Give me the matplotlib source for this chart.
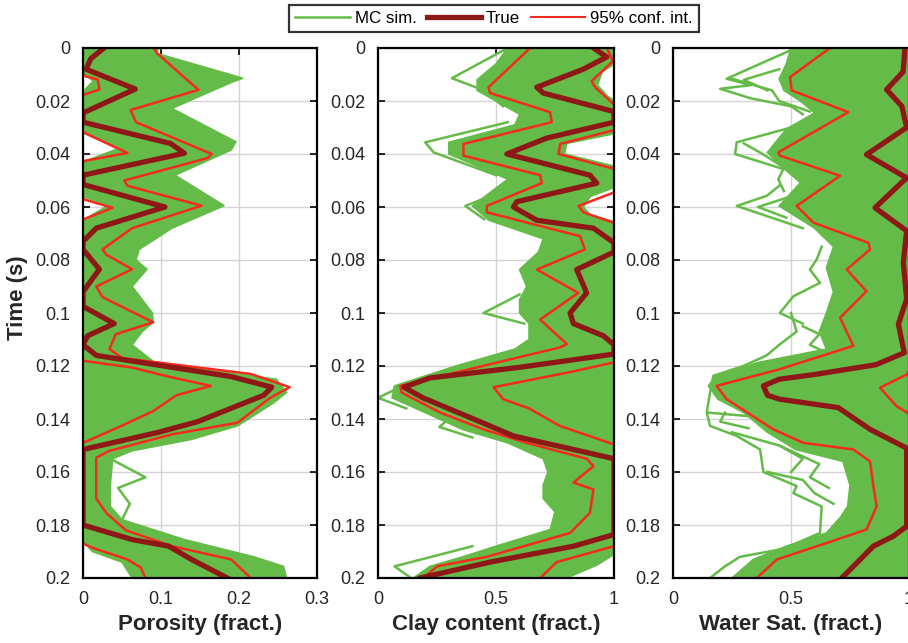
import matplotlib.pyplot as plt
from matplotlib.lines import Line2D
import numpy as np

plt.rcParams['font.family'] = ['Liberation Sans', 'DejaVu Sans']

GREEN = '#64bb48'
DARK = '#8e1717'
RED = '#f42a1f'

# ---------------- porosity ----------------
por_true_t = [0, 0.004, 0.008, 0.0155, 0.0245, 0.028, 0.036, 0.0397, 0.048, 0.0515, 0.060, 0.068,
              0.073, 0.076, 0.0835, 0.092, 0.0975, 0.104, 0.1086, 0.112, 0.116, 0.124, 0.128, 0.131,
              0.141, 0.145, 0.1515, 0.18, 0.1855, 0.188, 0.193, 0.2]
por_true = [0.027, 0.010, 0.004, 0.067, 0.0, 0.0, 0.112, 0.130, 0.0, 0.0, 0.105, 0.017,
            0.0, 0.0, 0.021, 0.0, 0.0, 0.040, 0.006, 0.0, 0.017, 0.190, 0.242, 0.232,
            0.147, 0.097, 0.0, 0.0, 0.063, 0.110, 0.139, 0.185]

por_lo_t = [0, 0.004, 0.0106, 0.0119, 0.0157, 0.0175, 0.024, 0.032, 0.0396, 0.0427, 0.05, 0.0572,
            0.0603, 0.0647, 0.075, 0.09, 0.105, 0.118, 0.1206, 0.1243, 0.1275, 0.131, 0.137, 0.1425,
            0.149, 0.165, 0.187, 0.1887, 0.193, 0.196, 0.2]
por_lo = [0.0, -0.01, 0.002, 0.019, 0.021, 0.002, -0.03, 0.002, 0.057, 0.0, -0.02, 0.002,
          0.038, 0.0, -0.03, -0.03, -0.03, 0.0, 0.063, 0.114, 0.164, 0.12, 0.09, 0.05,
          0.0, -0.03, 0.0, 0.013, 0.057, 0.074, 0.080]

por_hi_t = [0, 0.002, 0.0158, 0.0234, 0.028, 0.04, 0.0415, 0.05, 0.052, 0.0595, 0.068, 0.076,
            0.078, 0.0835, 0.09, 0.094, 0.1035, 0.108, 0.1136, 0.117, 0.123, 0.128, 0.132, 0.1414,
            0.1458, 0.152, 0.1546, 0.17, 0.1755, 0.182, 0.188, 0.193, 0.2]
por_hi = [0.091, 0.095, 0.148, 0.061, 0.068, 0.165, 0.160, 0.053, 0.057, 0.152, 0.063, 0.025,
          0.030, 0.063, 0.017, 0.025, 0.090, 0.042, 0.034, 0.050, 0.215, 0.265, 0.240, 0.198,
          0.114, 0.034, 0.017, 0.017, 0.030, 0.055, 0.114, 0.190, 0.215]

por_env_lo_t = [0, 0.009, 0.0125, 0.0165, 0.032, 0.038, 0.043, 0.056, 0.0595, 0.065, 0.186, 0.19,
                0.194, 0.2]
por_env_lo = [0, 0, 0.013, 0, 0, 0.045, 0, 0, 0.032, 0, 0, 0.012, 0.05, 0.063]
por_env_hi_t = [0, 0.002, 0.0114, 0.013, 0.0228, 0.0354, 0.0385, 0.048, 0.0595, 0.068, 0.076, 0.08,
                0.0835, 0.09, 0.1, 0.1035, 0.107, 0.112, 0.119, 0.125, 0.13, 0.134, 0.1426, 0.1477,
                0.152, 0.155, 0.165, 0.173, 0.178, 0.1855, 0.192, 0.1956, 0.2]
por_env_hi = [0.097, 0.094, 0.205, 0.19, 0.114, 0.196, 0.19, 0.118, 0.181, 0.114, 0.072, 0.068,
              0.082, 0.063, 0.089, 0.09, 0.076, 0.063, 0.093, 0.248, 0.261, 0.244, 0.198, 0.139,
              0.063, 0.038, 0.035, 0.035, 0.05, 0.13, 0.219, 0.257, 0.261]
por_stray = [
    ([0.126, 0.1325, 0.141, 0.143, 0.147], [0.14, 0.10, 0.05, 0.05, 0.035]),
    ([0.155, 0.162, 0.166, 0.172, 0.178], [0.035, 0.08, 0.045, 0.06, 0.05]),
]

# ---------------- clay content ----------------
clay_true_t = [0, 0.0034, 0.008, 0.0148, 0.017, 0.024, 0.028, 0.034, 0.04, 0.048, 0.051, 0.058,
               0.06, 0.065, 0.068, 0.0735, 0.077, 0.0836, 0.0924, 0.1, 0.104, 0.1086, 0.112, 0.1155,
               0.1205, 0.1245, 0.128, 0.132, 0.14, 0.1464, 0.1515, 0.155, 0.1836, 0.188, 0.194, 0.2]
clay_true = [0.913, 0.969, 0.87, 0.673, 0.70, 1.0, 1.0, 0.715, 0.546, 0.898, 0.927, 0.588,
             0.574, 0.673, 0.913, 1.0, 1.0, 0.842, 0.884, 0.814, 0.828, 0.955, 1.0, 1.0,
             0.60, 0.22, 0.11, 0.19, 0.405, 0.574, 0.828, 1.0, 1.0, 0.828, 0.475, 0.179]

clay_lo_t = [0, 0.0148, 0.017, 0.0242, 0.028, 0.0362, 0.0406, 0.048, 0.051, 0.0596, 0.062, 0.071,
             0.076, 0.0836, 0.0924, 0.1025, 0.1117, 0.113, 0.1275, 0.13, 0.1376, 0.1439, 0.149,
             0.155, 0.1578, 0.164, 0.1666, 0.1754, 0.183, 0.192, 0.1956, 0.2]
clay_lo = [0.645, 0.468, 0.475, 0.729, 0.736, 0.362, 0.362, 0.687, 0.694, 0.461, 0.461, 0.856,
           0.877, 0.673, 0.849, 0.687, 0.80, 0.77, 0.094, 0.10, 0.264, 0.447, 0.63,
           0.884, 0.913, 0.828, 0.913, 0.898, 0.814, 0.461, 0.25, 0.193]

clay_hi_t = [0, 0.005, 0.0125, 0.0148, 0.0213, 0.025, 0.031, 0.0362, 0.040, 0.0456, 0.05, 0.0545,
             0.0596, 0.062, 0.066, 0.075, 0.1, 0.1186, 0.122, 0.128, 0.1325, 0.136, 0.1426, 0.1496,
             0.16, 0.18, 0.188, 0.194, 0.2]
clay_hi = [0.97, 0.995, 0.905, 0.92, 1.0, 1.05, 1.0, 0.772, 0.765, 1.0, 1.03, 1.0,
           0.85, 0.87, 1.0, 1.05, 1.05, 1.0, 0.83, 0.49, 0.53, 0.64, 0.77, 1.0,
           1.05, 1.05, 1.0, 0.757, 0.687]

clay_env_lo_t = [0, 0.006, 0.012, 0.016, 0.02, 0.025, 0.029, 0.0356, 0.040, 0.0495, 0.0596, 0.065,
                 0.072, 0.077, 0.0836, 0.09, 0.095, 0.1, 0.104, 0.11, 0.1136, 0.12, 0.1275, 0.132,
                 0.1376, 0.144, 0.149, 0.155, 0.16, 0.165, 0.17, 0.175, 0.1817, 0.188, 0.192, 0.1956, 0.2]
clay_env_lo = [0.55, 0.50, 0.42, 0.42, 0.50, 0.60, 0.58, 0.30, 0.30, 0.55, 0.40, 0.47,
               0.70, 0.68, 0.60, 0.63, 0.60, 0.60, 0.64, 0.64, 0.58, 0.33, 0.07, 0.06,
               0.20, 0.36, 0.55, 0.70, 0.72, 0.70, 0.70, 0.75, 0.73, 0.50, 0.36, 0.22, 0.15]
clay_env_hi_t = [0, 0.005, 0.009, 0.014, 0.018, 0.021, 0.032, 0.036, 0.040, 0.045, 0.052, 0.056,
                 0.060, 0.063, 0.066, 0.19, 0.195, 0.2]
clay_env_hi = [1.02, 1.02, 0.95, 0.93, 0.97, 1.02, 1.02, 0.80, 0.79, 1.02, 1.02, 0.90,
               0.87, 0.90, 1.02, 1.02, 0.93, 0.80]
clay_stray = [
    ([0.0, 0.0114, 0.016, 0.022], [0.55, 0.313, 0.45, 0.53]),
    ([0.028, 0.0356, 0.0394, 0.048], [0.55, 0.20, 0.236, 0.50]),
    ([0.055, 0.0596, 0.0646], [0.50, 0.37, 0.45]),
    ([0.093, 0.1, 0.104], [0.60, 0.447, 0.62]),
    ([0.126, 0.132, 0.136], [0.14, 0.0, 0.12]),
    ([0.14, 0.143, 0.147], [0.30, 0.26, 0.40]),
    ([0.188, 0.1956, 0.2], [0.40, 0.07, 0.14]),
]

# ---------------- water saturation ----------------
wat_true_t = [0, 0.009, 0.0157, 0.022, 0.030, 0.0402, 0.049, 0.0603, 0.069, 0.081, 0.0947, 0.1042,
              0.115, 0.1195, 0.1232, 0.125, 0.1275, 0.131, 0.1325, 0.1357, 0.1439, 0.151, 0.1805,
              0.1842, 0.188, 0.2]
wat_true = [0.983, 0.975, 0.905, 0.97, 0.99, 0.82, 0.99, 0.856, 0.99, 0.976, 0.99, 0.955,
            0.98, 0.86, 0.60, 0.45, 0.383, 0.40, 0.45, 0.70, 0.835, 0.99, 0.99,
            0.934, 0.849, 0.715]

wat_lo_t = [0, 0.011, 0.016, 0.0242, 0.0394, 0.0406, 0.0482, 0.0596, 0.0659, 0.0735, 0.076, 0.0836,
            0.0918, 0.1018, 0.1124, 0.1212, 0.1275, 0.1325, 0.1439, 0.149, 0.1515, 0.156, 0.1653,
            0.173, 0.1817, 0.1868, 0.193, 0.2]
wat_lo = [0.665, 0.496, 0.503, 0.743, 0.446, 0.453, 0.708, 0.524, 0.595, 0.828, 0.835, 0.736,
          0.82, 0.708, 0.764, 0.453, 0.185, 0.227, 0.425, 0.552, 0.764, 0.835, 0.849,
          0.863, 0.82, 0.651, 0.44, 0.355]

wat_hi_t = [0, 0.118, 0.1232, 0.1282, 0.1352, 0.138, 0.143, 0.2]
wat_hi = [1.05, 1.03, 0.99, 0.877, 0.948, 1.0, 1.05, 1.05]

wat_env_lo_t = [0, 0.006, 0.0116, 0.016, 0.02, 0.0245, 0.0306, 0.0394, 0.044, 0.0508, 0.0596, 0.068,
                0.075, 0.083, 0.092, 0.1, 0.107, 0.1136, 0.1187, 0.124, 0.1275, 0.1325, 0.1376,
                0.145, 0.1515, 0.156, 0.165, 0.173, 0.177, 0.183, 0.188, 0.193, 0.2]
wat_env_lo = [0.50, 0.48, 0.45, 0.47, 0.54, 0.60, 0.48, 0.40, 0.45, 0.54, 0.45, 0.60,
              0.68, 0.65, 0.68, 0.65, 0.62, 0.65, 0.36, 0.18, 0.15, 0.19, 0.30,
              0.40, 0.52, 0.72, 0.75, 0.74, 0.71, 0.65, 0.48, 0.34, 0.25]
wat_env_hi_t = [0, 0.2]
wat_env_hi = [1.02, 1.02]
wat_stray = [
    ([0, 0.0116, 0.014, 0.0154, 0.019, 0.022, 0.025], [0.52, 0.227, 0.33, 0.20, 0.33, 0.50, 0.55]),
    ([0.03, 0.0356, 0.04, 0.0457, 0.0495, 0.054], [0.50, 0.27, 0.263, 0.468, 0.446, 0.47]),
    ([0.052, 0.0558, 0.0596, 0.0634, 0.068], [0.45, 0.397, 0.27, 0.397, 0.55]),
    ([0.075, 0.0798, 0.0836, 0.0886, 0.0937, 0.1, 0.104], [0.63, 0.609, 0.58, 0.623, 0.51, 0.453, 0.55]),
    ([0.1, 0.107, 0.112, 0.116, 0.12, 0.1237, 0.13, 0.1376, 0.1426, 0.1464, 0.1515, 0.16, 0.1653,
      0.168, 0.173, 0.183, 0.189, 0.192, 0.1956, 0.2],
     [0.50, 0.524, 0.45, 0.397, 0.298, 0.171, 0.157, 0.143, 0.157, 0.27, 0.369, 0.383, 0.524,
      0.51, 0.63, 0.623, 0.468, 0.284, 0.22, 0.157]),
    ([0.1376, 0.139, 0.142, 0.146], [0.15, 0.33, 0.40, 0.45]),
    ([0.145, 0.15, 0.155, 0.16], [0.25, 0.45, 0.55, 0.50]),
    ([0.16, 0.163, 0.168, 0.172], [0.40, 0.55, 0.60, 0.68]),
    ([0.105, 0.108, 0.112, 0.115], [0.55, 0.62, 0.58, 0.65]),
    ([0.0116, 0.016, 0.02, 0.024], [0.25, 0.42, 0.45, 0.58]),
    ([0.036, 0.04, 0.044], [0.30, 0.38, 0.45]),
    ([0.008, 0.012, 0.016], [0.45, 0.30, 0.40]),
    ([0.056, 0.06, 0.064], [0.50, 0.36, 0.48]),
    ([0.1376, 0.141, 0.1435], [0.22, 0.20, 0.32]),
    ([0.15, 0.157, 0.162, 0.166], [0.45, 0.62, 0.58, 0.66]),
]

time_ticks = np.round(np.arange(0, 0.2001, 0.02), 2)


def draw_panel(ax, env, stray, lo, hi, true, xmax, xticks, xlabel):
    # MC realisations: dense band plus the stray traces outside it
    (lo_t, lo_x), (hi_t, hi_x) = env
    poly_x = np.r_[lo_x, hi_x[::-1]]
    poly_t = np.r_[lo_t, hi_t[::-1]]
    ax.fill(poly_x, poly_t, color=GREEN, lw=1.2, ec=GREEN, zorder=2)
    for t, x in stray:
        ax.plot(x, t, color=GREEN, lw=1.8, zorder=2.1)
    ax.plot(lo[1], lo[0], color=RED, lw=1.8, zorder=3)
    ax.plot(hi[1], hi[0], color=RED, lw=1.8, zorder=3)
    ax.plot(true[1], true[0], color=DARK, lw=3.8, zorder=4)

    ax.set_xlim(0, xmax)
    ax.set_ylim(0.2, 0)
    ax.set_xticks(xticks)
    ax.set_xticklabels([f'{v:g}' for v in xticks])
    ax.set_yticks(time_ticks)
    ax.set_yticklabels([f'{v:g}' for v in time_ticks])
    ax.grid(True, color='#d4d4d4', lw=1.0)
    ax.tick_params(direction='in', length=5, width=1.2, top=True, right=True,
                   labelsize=13, labelcolor='#262626', pad=9)
    for s in ax.spines.values():
        s.set_linewidth(1.6)
        s.set_zorder(5)
    ax.set_xlabel(xlabel, fontsize=16, fontweight='bold', color='#262626', labelpad=5)


fig = plt.figure(figsize=(9.08, 6.43), dpi=100)
bottom = 1 - 578 / 643
height = 530 / 643
ax1 = fig.add_axes([83 / 908, bottom, 234 / 908, height])
ax2 = fig.add_axes([378 / 908, bottom, 236 / 908, height])
ax3 = fig.add_axes([673 / 908, bottom, 236 / 908, height])

draw_panel(ax1, ((por_env_lo_t, por_env_lo), (por_env_hi_t, por_env_hi)), por_stray,
           (por_lo_t, por_lo), (por_hi_t, por_hi), (por_true_t, por_true),
           0.3, [0, 0.1, 0.2, 0.3], 'Porosity (fract.)')
draw_panel(ax2, ((clay_env_lo_t, clay_env_lo), (clay_env_hi_t, clay_env_hi)), clay_stray,
           (clay_lo_t, clay_lo), (clay_hi_t, clay_hi), (clay_true_t, clay_true),
           1, [0, 0.5, 1], 'Clay content (fract.)')
draw_panel(ax3, ((wat_env_lo_t, wat_env_lo), (wat_env_hi_t, wat_env_hi)), wat_stray,
           (wat_lo_t, wat_lo), (wat_hi_t, wat_hi), (wat_true_t, wat_true),
           1, [0, 0.5, 1], 'Water Sat. (fract.)')

ax1.set_ylabel('Time (s)', fontsize=16, fontweight='bold', color='#262626')
ax1.yaxis.set_label_coords(-0.235, 0.528)

handles = [Line2D([], [], color=GREEN, lw=1.8),
           Line2D([], [], color=DARK, lw=3.8),
           Line2D([], [], color=RED, lw=1.5)]
leg = fig.legend(handles, ['MC sim.', 'True', '95% conf. int.'], loc='upper center',
                 bbox_to_anchor=(0.544, 0.993), ncol=3, fontsize=12.2, frameon=True,
                 fancybox=False, edgecolor='black', handlelength=3.2, handletextpad=0.3,
                 columnspacing=0.6, borderpad=0.38, borderaxespad=0)
leg.get_frame().set_linewidth(1.6)

fig.savefig('out.png', dpi=100)
